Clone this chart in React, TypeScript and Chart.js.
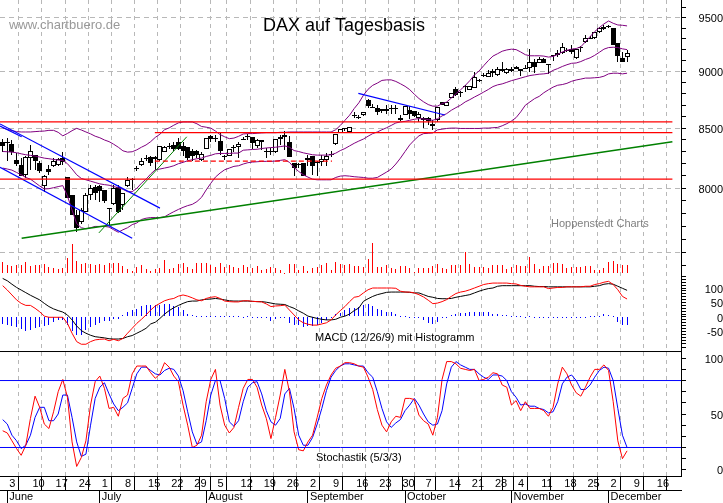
import { useEffect, useRef } from "react";
import { Chart, registerables } from "chart.js";

Chart.register(...registerables);

// trading days: 0 = Mon 3 June, 5 per week, first candle sits one day before
const open = [
  8380, 8378, 8366, 8234, 8192, 8110, 8247, 8270, 8206, 8019, 8157, 8179, 8192, 8247, 8088, 7944, 7787, 7734, 7814, 7944,
  8014, 8019, 7987, 7840, 7875, 8014, 7867, 8022, 8074, 8160, 8192, 8247, 8253, 8253, 8234, 8302, 8344, 8357, 8385, 8349,
  8338, 8310, 8308, 8234, 8322, 8432, 8418, 8390, 8262, 8261, 8344, 8344, 8410, 8432, 8421, 8349, 8396, 8305, 8305, 8300,
  8407, 8437, 8385, 8206, 8190, 8206, 8232, 8267, 8215, 8215, 8234, 8283, 8363, 8460, 8492, 8470, 8605, 8596, 8617, 8742,
  8686, 8678, 8649, 8652, 8675, 8678, 8570, 8617, 8655, 8646, 8590, 8585, 8588, 8538, 8567, 8722, 8693, 8763, 8839, 8811,
  8868, 8836, 8853, 8920, 8965, 8953, 9000, 8965, 9025, 8983, 9022, 9035, 9025, 9030, 9028, 9082, 9079, 9108, 9063, 9146,
  9171, 9168, 9195, 9203, 9123, 9225, 9266, 9305, 9310, 9360, 9389, 9421, 9399, 9256, 9117, 9130,
];
const high = [
  8407, 8412, 8399, 8289, 8247, 8267, 8357, 8275, 8220, 8110, 8192, 8247, 8247, 8302, 8090, 7950, 7827, 7840, 7960, 8027,
  8027, 8027, 7987, 7840, 8027, 8027, 7965, 8090, 8082, 8184, 8247, 8275, 8261, 8261, 8350, 8346, 8371, 8385, 8412, 8385,
  8344, 8322, 8316, 8302, 8412, 8440, 8440, 8454, 8275, 8322, 8357, 8385, 8426, 8453, 8426, 8407, 8396, 8330, 8330, 8407,
  8440, 8475, 8432, 8208, 8206, 8206, 8275, 8267, 8220, 8275, 8289, 8308, 8453, 8491, 8500, 8510, 8640, 8611, 8640, 8757,
  8713, 8698, 8669, 8698, 8698, 8698, 8611, 8693, 8690, 8646, 8640, 8596, 8596, 8567, 8684, 8728, 8728, 8810, 8859, 8824,
  8874, 8871, 8990, 8930, 8985, 9010, 9019, 9035, 9082, 9028, 9041, 9051, 9025, 9060, 9200, 9114, 9130, 9123, 9066, 9146,
  9193, 9256, 9218, 9240, 9209, 9231, 9335, 9326, 9367, 9408, 9430, 9430, 9405, 9256, 9177, 9193,
];
const low = [
  8302, 8225, 8275, 8179, 8096, 8082, 8151, 8151, 8124, 7973, 8110, 8173, 8184, 8192, 7920, 7790, 7655, 7721, 7814, 7907,
  7907, 7894, 7880, 7707, 7867, 7800, 7827, 8014, 7987, 8137, 8184, 8220, 8184, 8151, 8225, 8300, 8322, 8310, 8316, 8261,
  8228, 8220, 8247, 8220, 8322, 8385, 8385, 8275, 8234, 8261, 8294, 8247, 8399, 8399, 8322, 8330, 8316, 8250, 8275, 8292,
  8357, 8316, 8255, 8096, 8165, 8104, 8179, 8110, 8102, 8179, 8179, 8255, 8360, 8458, 8475, 8468, 8585, 8582, 8605, 8678,
  8675, 8611, 8628, 8625, 8625, 8625, 8558, 8617, 8582, 8596, 8555, 8503, 8523, 8488, 8550, 8698, 8693, 8763, 8777, 8772,
  8815, 8830, 8853, 8905, 8950, 8950, 8950, 8962, 8997, 8980, 8997, 9019, 8960, 9022, 8997, 8988, 9073, 9073, 8980, 9098,
  9130, 9155, 9177, 9161, 9114, 9177, 9256, 9294, 9300, 9351, 9383, 9399, 9240, 9082, 9082, 9082,
];
const close = [
  8349, 8375, 8302, 8200, 8104, 8253, 8308, 8225, 8137, 8096, 8132, 8223, 8242, 8212, 7920, 7790, 7686, 7827, 7944, 8000,
  7965, 7976, 7902, 7832, 8005, 7808, 7960, 8069, 8077, 8162, 8220, 8250, 8206, 8239, 8349, 8338, 8346, 8322, 8322, 8310,
  8247, 8261, 8275, 8283, 8412, 8404, 8404, 8308, 8259, 8322, 8335, 8366, 8404, 8429, 8377, 8399, 8380, 8302, 8302, 8407,
  8421, 8426, 8255, 8165, 8198, 8104, 8250, 8184, 8212, 8242, 8267, 8280, 8453, 8490, 8497, 8510, 8617, 8593, 8640, 8693,
  8684, 8640, 8669, 8669, 8678, 8675, 8588, 8693, 8625, 8605, 8625, 8567, 8561, 8518, 8684, 8704, 8728, 8810, 8792, 8808,
  8859, 8871, 8947, 8909, 8968, 8983, 8983, 9025, 9006, 9025, 9006, 9025, 9006, 9032, 9085, 9035, 9108, 9076, 9060, 9142,
  9152, 9225, 9190, 9177, 9203, 9222, 9304, 9307, 9360, 9399, 9415, 9415, 9240, 9139, 9085, 9171,
];

const bollUpper = [
  8503, 8489, 8478, 8470, 8467, 8467, 8467, 8470, 8473, 8475, 8481, 8481, 8464, 8434, 8454, 8478, 8498, 8484, 8467, 8451,
  8431, 8418, 8399, 8385, 8363, 8338, 8308, 8297, 8300, 8316, 8338, 8357, 8385, 8421, 8448, 8486, 8502, 8525, 8545, 8553,
  8553, 8553, 8537, 8514, 8508, 8500, 8475, 8445, 8426, 8410, 8415, 8430, 8450, 8453, 8453, 8456, 8459, 8461, 8461, 8461,
  8464, 8464, 8467, 8467, 8467, 8467, 8467, 8467, 8467, 8467, 8467, 8467, 8486, 8523, 8567, 8611, 8669, 8719, 8786, 8839,
  8874, 8894, 8918, 8923, 8923, 8909, 8888, 8865, 8836, 8795, 8757, 8728, 8704, 8690, 8690, 8712, 8726, 8761, 8799, 8834,
  8872, 8916, 8968, 9003, 9051, 9098, 9139, 9161, 9184, 9196, 9203, 9199, 9177, 9152, 9142, 9142, 9142, 9139, 9130, 9136,
  9155, 9177, 9193, 9203, 9209, 9225, 9272, 9320, 9367, 9405, 9440, 9468, 9446, 9430, 9427, 9421,
];
const bollMid = [
  8302, 8300, 8297, 8292, 8283, 8275, 8270, 8264, 8256, 8247, 8242, 8236, 8231, 8228, 8201, 8157, 8110, 8080, 8069, 8058,
  8047, 8036, 8030, 8025, 8014, 8005, 7992, 7973, 7973, 8000, 8041, 8074, 8116, 8151, 8157, 8165, 8173, 8184, 8201, 8212,
  8225, 8234, 8242, 8247, 8261, 8270, 8283, 8286, 8286, 8286, 8289, 8289, 8313, 8316, 8319, 8321, 8327, 8332, 8335, 8338,
  8343, 8349, 8338, 8310, 8302, 8291, 8283, 8275, 8272, 8272, 8272, 8275, 8288, 8310, 8327, 8349, 8371, 8390, 8407, 8431,
  8453, 8467, 8486, 8503, 8523, 8544, 8553, 8558, 8567, 8576, 8582, 8579, 8573, 8567, 8580, 8605, 8625, 8654, 8677, 8698,
  8727, 8747, 8770, 8791, 8814, 8837, 8863, 8878, 8887, 8901, 8916, 8927, 8939, 8951, 8962, 8968, 8974, 8977, 8983, 9009,
  9025, 9044, 9060, 9073, 9076, 9089, 9108, 9123, 9146, 9174, 9203, 9218, 9221, 9218, 9206, 9199,
];
const bollLower = [
  8165, 8157, 8148, 8129, 8110, 8088, 8074, 8047, 8019, 7995, 7997, 8005, 8014, 8022, 7939, 7827, 7721, 7689, 7681, 7689,
  7699, 7699, 7699, 7694, 7673, 7654, 7673, 7689, 7713, 7726, 7753, 7763, 7768, 7768, 7768, 7774, 7795, 7814, 7832, 7848,
  7862, 7872, 7894, 7928, 7987, 8041, 8091, 8124, 8151, 8165, 8179, 8184, 8198, 8209, 8214, 8217, 8220, 8220, 8220, 8223,
  8228, 8234, 8212, 8170, 8137, 8110, 8091, 8074, 8069, 8069, 8069, 8069, 8088, 8099, 8102, 8099, 8094, 8091, 8088, 8082,
  8082, 8088, 8110, 8132, 8157, 8198, 8247, 8302, 8357, 8398, 8434, 8453, 8456, 8459, 8485, 8491, 8497, 8500, 8500, 8497,
  8497, 8497, 8497, 8497, 8500, 8500, 8503, 8506, 8520, 8538, 8561, 8590, 8640, 8698, 8727, 8756, 8776, 8808, 8834, 8858,
  8875, 8881, 8892, 8910, 8922, 8930, 8939, 8939, 8942, 8945, 8956, 8977, 8983, 8983, 8977, 8983,
];

const volume = [
  33, 24, 22, 23, 25, 33, 21, 25, 25, 27, 19, 15, 11, 16, 46, 87, 36, 27, 29, 28,
  24, 27, 24, 29, 29, 30, 21, 11, 5, 19, 24, 11, 6, 11, 15, 39, 11, 14, 27, 30,
  17, 11, 29, 30, 29, 25, 17, 30, 19, 25, 19, 16, 24, 19, 14, 21, 9, 11, 17, 14,
  9, 0, 27, 27, 9, 21, 7, 16, 17, 24, 29, 9, 33, 27, 25, 27, 21, 20, 19, 42,
  90, 19, 19, 24, 16, 13, 20, 20, 14, 3, 14, 16, 16, 21, 27, 14, 11, 23, 23, 24,
  63, 27, 19, 19, 19, 14, 23, 24, 24, 11, 19, 23, 21, 20, 47, 27, 12, 20, 21, 30,
  30, 27, 16, 17, 18, 19, 20, 20, 9, 9, 14, 34, 35, 27, 25, 24,
];

const macdLine = [
  108, 93, 76, 59, 47, 40, 40, 30, 18, 3, -1, -1, -1, -1, -22, -56, -85, -94, -94, -85,
  -79, -77, -76, -82, -77, -82, -74, -56, -39, -22, -8, 7, 24, 38, 47, 56, 61, 64, 72, 76,
  72, 66, 59, 56, 64, 68, 70, 64, 55, 53, 52, 52, 56, 56, 54, 53, 52, 45, 36, 38,
  39, 41, 24, 7, -10, -20, -25, -28, -28, -24, -20, -10, 7, 22, 36, 53, 68, 71, 83, 94,
  100, 100, 100, 100, 100, 99, 89, 86, 86, 83, 77, 69, 58, 46, 48, 53, 60, 71, 81, 86,
  89, 94, 100, 106, 112, 115, 117, 117, 117, 117, 115, 114, 109, 106, 104, 104, 104, 104, 98, 100,
  102, 102, 104, 104, 104, 104, 106, 106, 112, 115, 120, 123, 112, 94, 71, 62,
];
const macdSignal = [
  133, 125, 113, 102, 93, 84, 75, 67, 59, 47, 36, 28, 22, 17, 7, -10, -31, -47, -56, -63,
  -68, -70, -72, -75, -76, -76, -74, -68, -64, -56, -48, -39, -24, -18, -5, 10, 22, 32, 40, 47,
  53, 55, 55, 59, 61, 62, 64, 62, 59, 56, 55, 55, 55, 55, 54, 53, 53, 51, 48, 45,
  44, 43, 36, 30, 21, 13, 3, -1, -5, -8, -10, -10, -8, -1, 3, 10, 22, 31, 54, 63,
  71, 77, 81, 85, 86, 86, 86, 86, 85, 83, 83, 77, 71, 68, 64, 63, 63, 64, 68, 71,
  74, 77, 83, 89, 94, 98, 100, 106, 108, 108, 108, 108, 108, 108, 108, 106, 105, 105, 104, 104,
  104, 104, 104, 104, 104, 104, 104, 104, 106, 108, 113, 115, 113, 106, 99, 92,
];
const macdHist = [
  -23, -26, -32, -34, -41, -49, -44, -38, -34, -30, -26, -18, -11, -9, -26, -49, -61, -61, -46, -34,
  -26, -21, -13, -15, -8, -7, 8, 16, 23, 29, 37, 40, 40, 43, 43, 45, 45, 37, 35, 25,
  11, 8, 3, 3, 3, 3, 5, 5, 3, 1, 1, 1, 0, 2, 0, 0, -1, -3, -15, -6,
  -5, -1, -21, -26, -26, -34, -30, -30, -26, -21, -9, -3, 12, 14, 25, 31, 31, 35, 40, 46,
  37, 28, 25, 17, 16, 9, 3, 2, 0, -1, -3, -9, -21, -23, -18, -3, 0, 7, 12, 14,
  14, 16, 16, 16, 16, 16, 12, 9, 7, 7, 5, 2, 1, 0, 1, -1, -1, -1, -1, -1,
  -1, -1, -1, 0, 0, 0, 0, 1, 2, 3, 9, 7, 1, -18, -29, -29,
];

const stochK = [
  35, 33, 26, 19, 13, 22, 46, 66, 56, 41, 37, 52, 70, 81, 65, 25, 3, 11, 26, 58,
  79, 84, 73, 55, 56, 48, 64, 67, 86, 93, 93, 93, 87, 82, 86, 96, 92, 84, 79, 58,
  40, 20, 22, 31, 61, 81, 90, 58, 40, 33, 38, 56, 73, 81, 81, 74, 58, 46, 28, 47,
  67, 90, 70, 34, 18, 17, 25, 31, 47, 64, 76, 85, 91, 93, 96, 96, 95, 93, 92, 83,
  72, 54, 40, 34, 43, 48, 47, 64, 64, 63, 49, 44, 41, 31, 47, 81, 97, 97, 95, 91,
  90, 89, 90, 80, 81, 83, 87, 86, 76, 74, 58, 62, 53, 61, 55, 55, 55, 53, 48, 56,
  77, 92, 86, 76, 69, 66, 74, 83, 90, 90, 94, 89, 61, 26, 10, 17,
];
const stochD = [
  45, 41, 31, 26, 19, 22, 31, 47, 56, 56, 44, 44, 50, 67, 67, 47, 25, 12, 14, 40,
  64, 74, 78, 68, 59, 53, 56, 60, 73, 86, 92, 92, 89, 86, 85, 89, 91, 90, 84, 71,
  52, 34, 23, 25, 44, 67, 80, 80, 64, 43, 39, 44, 61, 74, 78, 79, 68, 53, 43, 40,
  46, 68, 73, 55, 31, 22, 22, 29, 41, 55, 71, 83, 89, 93, 95, 95, 94, 93, 93, 87,
  83, 70, 55, 43, 38, 42, 45, 53, 58, 64, 58, 50, 43, 40, 41, 53, 77, 92, 97, 94,
  92, 90, 90, 86, 83, 81, 85, 85, 84, 80, 70, 65, 58, 59, 57, 57, 55, 54, 51, 52,
  61, 77, 83, 85, 80, 72, 72, 76, 83, 89, 92, 91, 80, 55, 31, 20,
];

const days = open.map((_, i) => i - 1);

// hand drawn lines of the analyst: [day0, day1, price0, price1]
const blueChannels = [
  [-1.58, 33.0, 8536, 7842],
  [-1.58, 3.1, 8517, 8426],
  [-1.58, 27.0, 8172, 7608],
  [75.9, 94.6, 8803, 8613],
];
const greenTrends = [[3.1, 143.8, 7608, 8384]];
const greenThin = [[19.8, 38.8, 7649, 8426]];
const redLevels = [
  [-1.58, 143.8, 8554, 8554],
  [31.9, 143.8, 8462, 8462],
  [-1.58, 143.8, 8075, 8075],
];
const redDashed = [[31.9, 70.2, 8222, 8222]];
const stochBands = [80, 20];
const stochTop = 106;

const weekLabels = [
  "3", "10", "17", "24", "1", "8", "15", "22", "29", "5", "12", "19", "26", "2", "9",
  "16", "23", "30", "7", "14", "21", "28", "4", "11", "18", "25", "2", "9", "16",
];
const monthLabels = ["June", "July", "August", "September", "October", "November", "December"];
const monthDays = [0, 20, 43, 65, 86, 109, 130];

const priceTicks = [
  9600, 9500, 9400, 9300, 9200, 9100, 9000, 8900, 8800, 8700, 8600, 8500, 8400, 8300, 8200, 8100, 8000, 7900, 7800, 7700,
  7600, 7500, 7400,
];
const macdTicks = [140, 130, 120, 110, 100, 90, 80, 70, 60, 50, 40, 30, 20, 10, 0, -10, -20, -30, -40, -50, -60, -70, -80, -90];
const stochTicks = [110, 100, 90, 80, 70, 60, 50, 40, 30, 20, 10, 0];

const captions: [string, number, number, string, string][] = [
  ["DAX auf Tagesbasis", 263, 31, "18px", "#000000"],
  ["www.chartbuero.de", 9, 29, "13px", "#999999"],
  ["Hoppenstedt Charts", 551, 227, "11px", "#808080"],
  ["MACD (12/26/9) mit Histogramm", 315, 341, "11px", "#000000"],
  ["Stochastik (5/3/3)", 316, 461, "11px", "#000000"],
];

const FONT = "'Liberation Sans', Arial, sans-serif";
const GRID = "#b8b8b8";

const toPoints = (vals: number[]) => days.map((d, i) => ({ x: d, y: vals[i] }));

const lineSet = (label: string, yAxisID: string, data: any[], color: string, width = 1, extra: any = {}) => ({
  type: "line",
  label,
  yAxisID,
  data,
  borderColor: color,
  borderWidth: width,
  pointRadius: 0,
  tension: 0,
  fill: false,
  order: 2,
  ...extra,
});

const segments = (label: string, rows: number[][], color: string, width: number, extra: any = {}) =>
  rows.map((r, i) =>
    lineSet(label + i, "y", [{ x: r[0], y: r[2] }, { x: r[1], y: r[3] }], color, width, extra)
  );

const barSet = (label: string, yAxisID: string, data: any[], color: any, thickness: number, extra: any = {}) => ({
  type: "bar",
  label,
  yAxisID,
  data,
  backgroundColor: color,
  barThickness: thickness,
  grouped: false,
  inflateAmount: 0,
  order: 3,
  ...extra,
});

// bars land on whole pixels, otherwise 1px bars get smeared
const snapBars = {
  id: "snapBars",
  afterDatasetsUpdate(chart: any) {
    chart.getSortedVisibleDatasetMetas().forEach((meta: any) => {
      if (meta.type !== "bar") return;
      const odd = chart.data.datasets[meta.index].barThickness % 2 === 1;
      meta.data.forEach((el: any) => {
        el.x = odd ? Math.floor(el.x) + 0.5 : Math.round(el.x);
        el.y = Math.round(el.y);
        el.base = Math.round(el.base);
        if (el.y === el.base) el.base += 1;
      });
    });
  },
};

const captionPlugin = {
  id: "captions",
  afterDraw(chart: any) {
    const ctx = chart.ctx;
    ctx.save();
    ctx.textAlign = "left";
    ctx.textBaseline = "alphabetic";
    captions.forEach(([text, x, y, size, color]) => {
      ctx.font = `${size} ${FONT}`;
      ctx.fillStyle = color;
      ctx.fillText(text, x, y);
    });
    ctx.restore();
  },
};

const noPadding = (scale: any) => {
  scale.paddingTop = 0;
  scale.paddingBottom = 0;
  scale.paddingLeft = 0;
  scale.paddingRight = 0;
};

const fixedWidth = (scale: any) => {
  scale.width = 42;
  noPadding(scale);
};

const rightAxis = (ticksList: number[], labelled: number[], weight: number, min: number, max: number, padding: number, extra: any = {}) => ({
  type: "linear",
  position: "right",
  stack: "panels",
  stackWeight: weight,
  min,
  max,
  bounds: "data",
  border: { display: true, color: "#000000", dash: [5, 4] },
  grid: { drawOnChartArea: false, tickLength: 5, tickColor: "#000000", color: "#000000" },
  ticks: {
    autoSkip: false,
    padding,
    crossAlign: "far",
    color: "#000000",
    labelOffset: 1.5,
    font: { family: FONT, size: 11 },
    callback: (v: number) => (labelled.includes(v) ? String(v) : ""),
  },
  afterBuildTicks: (scale: any) => {
    scale.ticks = ticksList.map((value) => ({ value }));
  },
  afterFit: fixedWidth,
  ...extra,
});

export default function App() {
  const canvasRef = useRef<HTMLCanvasElement | null>(null);

  useEffect(() => {
    document.body.style.margin = "0";
    if (!canvasRef.current) return;

    const bodies = days.map((d, i) => ({ x: d, y: [open[i], close[i]] }));
    const wicks = days.map((d, i) => ({ x: d, y: [low[i], high[i]] }));
    const weekTicks = weekLabels.map((_, i) => i * 5).concat([145]);
    const extraMonthTicks = monthDays.filter((d) => !weekTicks.includes(d));

    const chart = new Chart(canvasRef.current, {
      data: {
        datasets: [
          barSet("wick", "y", wicks, "#000000", 1, { order: 6 }),
          barSet("body", "y", bodies, (c: any) => (close[c.dataIndex] >= open[c.dataIndex] ? "#ffffff" : "#000000"), 5, {
            borderColor: "#000000",
            borderWidth: 1,
            borderSkipped: false,
            order: 5,
          }),
          lineSet("upper", "y", toPoints(bollUpper), "#800080", 1, { order: 4 }),
          lineSet("mid", "y", toPoints(bollMid), "#800080", 1, { order: 4 }),
          lineSet("lower", "y", toPoints(bollLower), "#800080", 1, { order: 4 }),
          ...segments("level", redLevels, "#ff0000", 1.2),
          ...segments("dashed", redDashed, "#ff0000", 1.2, { borderDash: [5, 3] }),
          ...segments("channel", blueChannels, "#0000ff", 1.2),
          ...segments("trend", greenTrends, "#008000", 1.6),
          ...segments("thin", greenThin, "#008000", 1),
          barSet("volume", "yVol", toPoints(volume), "#ff0000", 1),
          barSet("hist", "yMacd", toPoints(macdHist), "#0000ff", 1),
          lineSet("macd", "yMacd", toPoints(macdLine), "#ff0000"),
          lineSet("signal", "yMacd", toPoints(macdSignal), "#000000"),
          lineSet("top", "yStoch", [{ x: -1.58, y: stochTop }, { x: 145.66, y: stochTop }], "#000000"),
          ...stochBands.map((b) =>
            lineSet("band" + b, "yStoch", [{ x: -1.58, y: b }, { x: 145.66, y: b }], "#0000ff", 1)
          ),
          lineSet("k", "yStoch", toPoints(stochK), "#ff0000"),
          lineSet("d", "yStoch", toPoints(stochD), "#0000ff"),
        ] as any,
      },
      options: {
        animation: false,
        responsive: false,
        devicePixelRatio: 1,
        events: [],
        layout: { padding: 0, autoPadding: false },
        plugins: { legend: { display: false }, tooltip: { enabled: false }, title: { display: false } },
        scales: {
          x: {
            type: "linear",
            position: "bottom",
            min: -1.58,
            max: 145.66,
            offset: false,
            bounds: "data",
            border: { display: true, color: "#000000", dash: [4, 4] },
            grid: {
              tickLength: 14,
              tickColor: "#000000",
              color: (c: any) => (c.tick && extraMonthTicks.includes(c.tick.value) ? "transparent" : GRID),
            },
            ticks: {
              autoSkip: false,
              maxRotation: 0,
              minRotation: 0,
              align: "start",
              padding: -13,
              labelOffset: 2,
              color: "#000000",
              font: { family: FONT, size: 11 },
              callback: (v: number) => (v % 5 === 0 && weekLabels[v / 5] ? weekLabels[v / 5] : ""),
            },
            afterBuildTicks: (scale: any) => {
              scale.ticks = weekTicks.concat(extraMonthTicks).sort((a, b) => a - b).map((value) => ({ value }));
            },
            afterFit: (scale: any) => {
              scale.height = 14;
              noPadding(scale);
            },
          },
          xMonth: {
            type: "linear",
            axis: "x",
            position: "bottom",
            min: -1.58,
            max: 145.66,
            offset: false,
            bounds: "data",
            border: { display: true, color: "#000000" },
            grid: { drawOnChartArea: false, tickLength: 13, tickColor: "#000000" },
            ticks: {
              autoSkip: false,
              maxRotation: 0,
              minRotation: 0,
              align: "start",
              padding: -13,
              labelOffset: 2,
              color: "#000000",
              font: { family: FONT, size: 11 },
              callback: (v: number) => monthLabels[monthDays.indexOf(v)] ?? "",
            },
            afterBuildTicks: (scale: any) => {
              scale.ticks = monthDays.map((value) => ({ value }));
            },
            afterFit: (scale: any) => {
              scale.height = 13;
              noPadding(scale);
            },
          },
          y: rightAxis(priceTicks, [8000, 8500, 9000, 9500], 274, 7339, 9670, 10, {
            type: "logarithmic",
            grid: {
              tickLength: 5,
              tickColor: "#000000",
              color: (c: any) => (c.tick && c.tick.value % 500 === 0 ? GRID : "transparent"),
            },
          }),
          yMacd: rightAxis(macdTicks, [100, 50, 0, -50], 71, -96.6, 148.3, 15),
          yStoch: rightAxis(stochTicks, [100, 50, 0], 131, -5.55, 111.85, 15),
          yVol: { type: "linear", position: "right", display: false, min: -609, max: 819, afterFit: noPadding },
        },
      } as any,
      plugins: [snapBars, captionPlugin],
    } as any);

    return () => chart.destroy();
  }, []);

  return <canvas ref={canvasRef} width={723} height={503} style={{ display: "block" }} />;
}
